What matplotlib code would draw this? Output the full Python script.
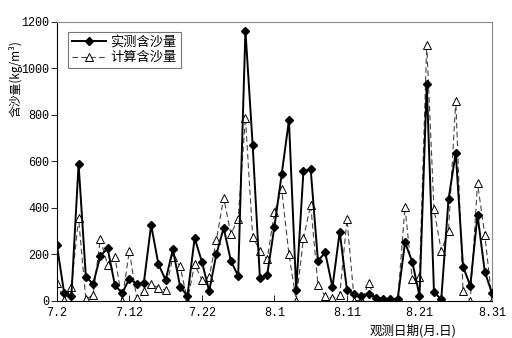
import matplotlib
matplotlib.use('Agg')
import matplotlib.pyplot as plt
import numpy as np

# observation days, 7.2 .. 8.31 (day index 0..60)
tick_labels = ['7.2', '7.12', '7.22', '8.1', '8.11', '8.21', '8.31']

measured = [242, 36, 21, 589, 105, 73, 194, 226, 69, 33,
            96, 73, 79, 327, 159, 90, 222, 62, 21, 270,
            169, 43, 202, 314, 172, 108, 1163, 671, 97, 112,
            320, 545, 777, 47, 559, 566, 172, 209, 59, 298,
            47, 29, 23, 30, 14, 9, 9, 9, 252, 169,
            23, 932, 37, 7, 437, 638, 148, 66, 370, 126,
            33]

computed = [79, 5, 59, 356, 7, 26, 267, 155, 191, 2,
            216, 14, 43, 72, 57, 47, 188, 150, 2, 158,
            90, 102, 262, 444, 288, 354, 789, 277, 216, 179,
            381, 480, 201, 2, 270, 413, 69, 21, 11, 26,
            351, 2, 3, 76, 2, 2, 2, 2, 406, 95,
            102, 1101, 394, 215, 301, 862, 43, 2, 506, 284,
            2]

days = np.arange(len(measured))

cjk = ['Noto Sans CJK SC', 'DejaVu Sans']
num_font = 'Liberation Mono'

fig = plt.figure(figsize=(5.12, 3.38), dpi=100)
ax = fig.add_axes([0.111, 0.1095, 0.85, 0.8255])

ax.plot(days, computed, color='#444444', linestyle=(0, (5, 3)), linewidth=0.8,
        marker='^', markersize=6, markerfacecolor='white', markeredgecolor='black',
        markeredgewidth=0.7, label='计算含沙量', zorder=2)
ax.plot(days, measured, color='black', linestyle='-', linewidth=1.4,
        marker='D', markersize=3.8, markerfacecolor='black', markeredgecolor='black',
        label='实测含沙量', zorder=3)

ax.set_xlim(0, 60)
ax.set_ylim(0, 1200)
ax.set_xticks(np.arange(0, 61, 10))
ax.set_xticklabels(tick_labels, fontfamily=num_font, fontsize=8.5)
ax.set_yticks(np.arange(0, 1201, 200))
ax.set_yticklabels([str(v) for v in range(0, 1201, 200)], fontfamily=num_font, fontsize=8.5)

ax.tick_params(axis='x', direction='in', length=4, width=0.6, pad=4)
ax.tick_params(axis='y', direction='out', length=4, width=0.6, pad=1.5)

for side in ['top', 'right']:
    ax.spines[side].set_color('#888888')
    ax.spines[side].set_linewidth(0.8)
for side in ['left', 'bottom']:
    ax.spines[side].set_color('black')
    ax.spines[side].set_linewidth(0.8)

# axis titles placed where the original puts them
fig.text(16 / 512, 1 - 79 / 338, '含沙量(kg/m³)', rotation=90, ha='center', va='center',
         fontfamily=cjk, fontsize=8.5)
fig.text(413 / 512, 1 - 331 / 338, '观测日期(月.日)', ha='center', va='center',
         fontfamily=cjk, fontsize=9)

handles, labels = ax.get_legend_handles_labels()
leg = ax.legend(handles[::-1], labels[::-1], loc='upper left', bbox_to_anchor=(0.02, 0.975),
                prop={'family': cjk, 'size': 9.5}, frameon=True, fancybox=False,
                edgecolor='#555555', handlelength=2.6, borderpad=0.3, labelspacing=0.2,
                handletextpad=0.3, borderaxespad=0.2)
leg.get_frame().set_linewidth(0.8)

fig.savefig('out.png', dpi=100)
